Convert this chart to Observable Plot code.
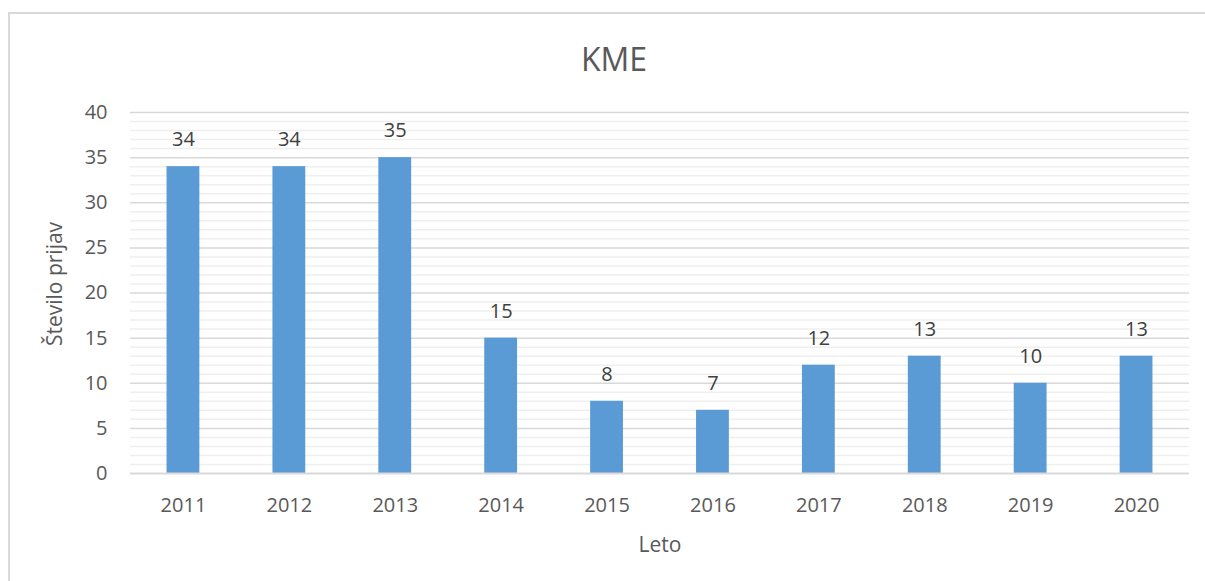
<!DOCTYPE html>
<html><head><meta charset="utf-8">
<script src="https://cdn.jsdelivr.net/npm/d3@7"></script>
<script src="https://cdn.jsdelivr.net/npm/@observablehq/plot@0.6"></script>
<style>
body{margin:0;background:#fff;font-family:"Open Sans",sans-serif;}
#wrap{position:relative;width:1205px;height:581px;overflow:hidden;background:#fff}
#frame{position:absolute;left:8px;top:12px;right:-5px;bottom:-5px;border-top:2px solid #d9d9d9;border-left:2px solid #d9d9d9;pointer-events:none}
#title{position:absolute;left:0;top:39px;width:1228px;text-align:center;font-size:32px;line-height:40px;color:#595959;font-family:"Open Sans",sans-serif}
#chart{position:absolute;left:0;top:85px}
</style></head>
<body>
<div id="wrap">
  <div id="title">KME</div>
  <div id="chart"></div>
  <div id="frame"></div>
</div>
<script>
const years = ["2011","2012","2013","2014","2015","2016","2017","2018","2019","2020"];
const counts = [34, 34, 35, 15, 8, 7, 12, 13, 10, 13];
const yTicks = [0, 5, 10, 15, 20, 25, 30, 35, 40];
const minorTicks = d3.range(0, 41).filter(v => v % 5 !== 0);
const xLabel = "Leto";
const yLabel = "Število prijav";

const data = years.map((y, i) => ({year: y, value: counts[i]}));

const chart = Plot.plot({
  width: 1205,
  height: 496,
  marginLeft: 130,
  marginRight: 16,
  marginTop: 27,
  marginBottom: 108,
  style: {background: "transparent", fontFamily: "'Open Sans', sans-serif", fontSize: "20px", color: "#595959", overflow: "visible"},
  x: {domain: years, paddingInner: 0.69, paddingOuter: 0.345, align: 0.5, round: false, label: null},
  y: {domain: [0, 40], label: null},
  marks: [
    Plot.ruleY(minorTicks, {stroke: "#efefef", strokeWidth: 1.5}),
    Plot.ruleY(yTicks.filter(v => v > 0), {stroke: "#d9d9d9", strokeWidth: 1.5}),
    Plot.barY(data, {x: "year", y: "value", fill: "#5b9bd5"}),
    Plot.ruleY([0], {stroke: "#d9d9d9", strokeWidth: 2}),
    Plot.axisX({tickSize: 0, tickPadding: 24, fontSize: 20, fill: "#595959", label: null}),
    Plot.axisY({ticks: yTicks, tickSize: 0, tickPadding: 23, fontSize: 20, fill: "#595959", label: null}),
    Plot.text(data, {x: "year", y: "value", text: d => String(d.value), dy: -27, fontSize: 20, fill: "#404040", lineAnchor: "middle"}),
    Plot.text([xLabel], {frameAnchor: "bottom", dy: 72, fontSize: 21, fill: "#595959", lineAnchor: "middle", textAnchor: "middle"}),
    Plot.text([yLabel], {frameAnchor: "left", dx: -75, dy: -9, rotate: -90, fontSize: 21, fill: "#595959", lineAnchor: "middle", textAnchor: "middle"})
  ]
});
document.getElementById("chart").appendChild(chart);
</script>
</body></html>
